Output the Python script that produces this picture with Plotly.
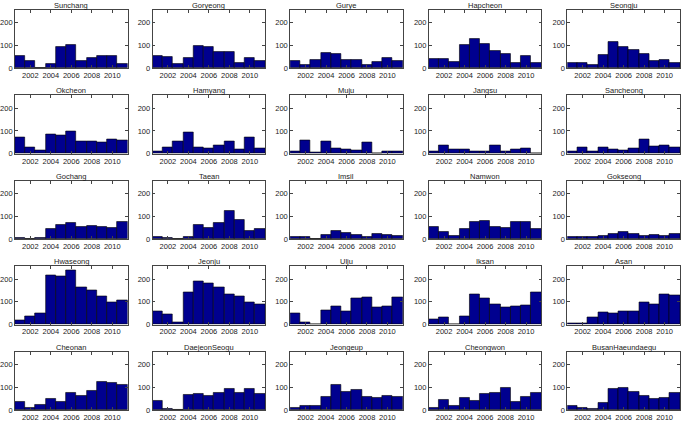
import plotly.graph_objects as go

years = list(range(2001, 2012))
x_ticks = [2002, 2004, 2006, 2008, 2010]
y_ticks = [0, 100, 200]

names = ["Sunchang", "Goryeong", "Gurye", "Hapcheon", "Seongju",
         "Okcheon", "Hamyang", "Muju", "Jangsu", "Sancheong",
         "Gochang", "Taean", "Imsil", "Namwon", "Gokseong",
         "Hwaseong", "Jeonju", "Ulju", "Iksan", "Asan",
         "Cheonan", "DaejeonSeogu", "Jeongeup", "Cheongwon", "BusanHaeundaegu"]

sunchang = [52, 30, 3, 20, 92, 103, 33, 47, 52, 55, 20]
goryeong = [55, 48, 17, 45, 98, 95, 72, 70, 25, 47, 33]
gurye = [33, 15, 35, 68, 63, 37, 38, 15, 27, 45, 33]
hapcheon = [40, 40, 28, 103, 130, 105, 75, 62, 25, 55, 22]
seongju = [23, 23, 15, 58, 117, 95, 80, 65, 33, 37, 25]
okcheon = [73, 28, 15, 85, 82, 97, 52, 55, 50, 63, 60]
hamyang = [10, 27, 55, 93, 28, 25, 37, 53, 18, 70, 22]
muju = [12, 60, 5, 55, 25, 20, 15, 50, 3, 12, 10]
jangsu = [12, 35, 18, 20, 8, 8, 37, 12, 20, 25, 3]
sancheong = [10, 27, 12, 27, 20, 15, 25, 62, 32, 38, 28]
gochang = [5, 2, 7, 45, 63, 72, 55, 57, 55, 48, 77]
taean = [10, 5, 2, 8, 62, 50, 70, 123, 83, 38, 45]
imsil = [12, 10, 3, 20, 35, 28, 18, 10, 25, 20, 15]
namwon = [55, 33, 15, 45, 78, 80, 55, 50, 78, 75, 45]
gokseong = [8, 10, 12, 15, 22, 33, 22, 15, 18, 15, 25]
hwaseong = [20, 35, 50, 215, 210, 240, 165, 150, 125, 100, 105]
jeonju = [60, 45, 10, 140, 190, 180, 165, 135, 125, 100, 90]
ulju = [50, 10, 3, 65, 80, 60, 115, 120, 75, 80, 120]
iksan = [25, 30, 3, 35, 135, 115, 90, 75, 80, 85, 140]
asan = [5, 5, 30, 55, 50, 60, 60, 100, 90, 135, 130]
cheonan = [35, 10, 25, 50, 35, 75, 65, 85, 125, 120, 110]
daejeonseogu = [40, 5, 0, 68, 72, 65, 78, 95, 75, 95, 72]
jeongeup = [10, 20, 20, 60, 110, 80, 90, 60, 55, 65, 60]
cheongwon = [10, 45, 20, 55, 40, 70, 75, 100, 35, 60, 75]
busanhaeundaegu = [20, 10, 5, 30, 95, 100, 80, 65, 50, 55, 75]

series = [sunchang, goryeong, gurye, hapcheon, seongju,
          okcheon, hamyang, muju, jangsu, sancheong,
          gochang, taean, imsil, namwon, gokseong,
          hwaseong, jeonju, ulju, iksan, asan,
          cheonan, daejeonseogu, jeongeup, cheongwon, busanhaeundaegu]

W, H = 682, 422
col_left = [13, 151, 289, 428, 567]
plot_w = 113
row_top = [10, 96.5, 183, 269.5, 356]
plot_h = 59

fig = go.Figure()
font = dict(family="Liberation Sans, Arial, sans-serif", size=7.5, color="#222222")

for i, (name, vals) in enumerate(zip(names, series)):
    r, c = divmod(i, 5)
    k = "" if i == 0 else str(i + 1)
    x0 = col_left[c] / W
    x1 = (col_left[c] + plot_w) / W
    y1 = 1 - row_top[r] / H
    y0 = 1 - (row_top[r] + plot_h) / H
    fig.add_trace(go.Bar(x=years, y=vals, width=1.0,
                         marker=dict(color="#00008F", line=dict(color="#000000", width=0.6)),
                         xaxis="x" + k, yaxis="y" + k, showlegend=False, hoverinfo="skip"))
    fig.layout["xaxis" + k] = dict(domain=[x0, x1], anchor="y" + k, range=[2000.5, 2011.5],
                                    tickvals=x_ticks, ticks="inside", ticklen=3, tickcolor="#444",
                                    showline=True, linecolor="#444", linewidth=0.7, mirror="ticks",
                                    showgrid=False, zeroline=False, tickfont=font, fixedrange=True)
    fig.layout["yaxis" + k] = dict(domain=[y0, y1], anchor="x" + k, range=[0, 256],
                                    tickvals=y_ticks, ticks="inside", ticklen=3, tickcolor="#444",
                                    showline=True, linecolor="#444", linewidth=0.7, mirror="ticks",
                                    showgrid=False, zeroline=False, tickfont=font, fixedrange=True)
    fig.add_annotation(text=name, x=(x0 + x1) / 2, y=y1, xref="paper", yref="paper",
                       xanchor="center", yanchor="bottom", yshift=-2, showarrow=False,
                       font=dict(family="Liberation Sans, Arial, sans-serif", size=7.5, color="#222222"))

fig.update_layout(width=W, height=H, margin=dict(l=0, r=0, t=0, b=0),
                  paper_bgcolor="white", plot_bgcolor="white", bargap=0)
fig.write_html("out.html", config={"displayModeBar": False},
               post_script="document.body.style.margin='0px';document.body.style.overflow='hidden';")
